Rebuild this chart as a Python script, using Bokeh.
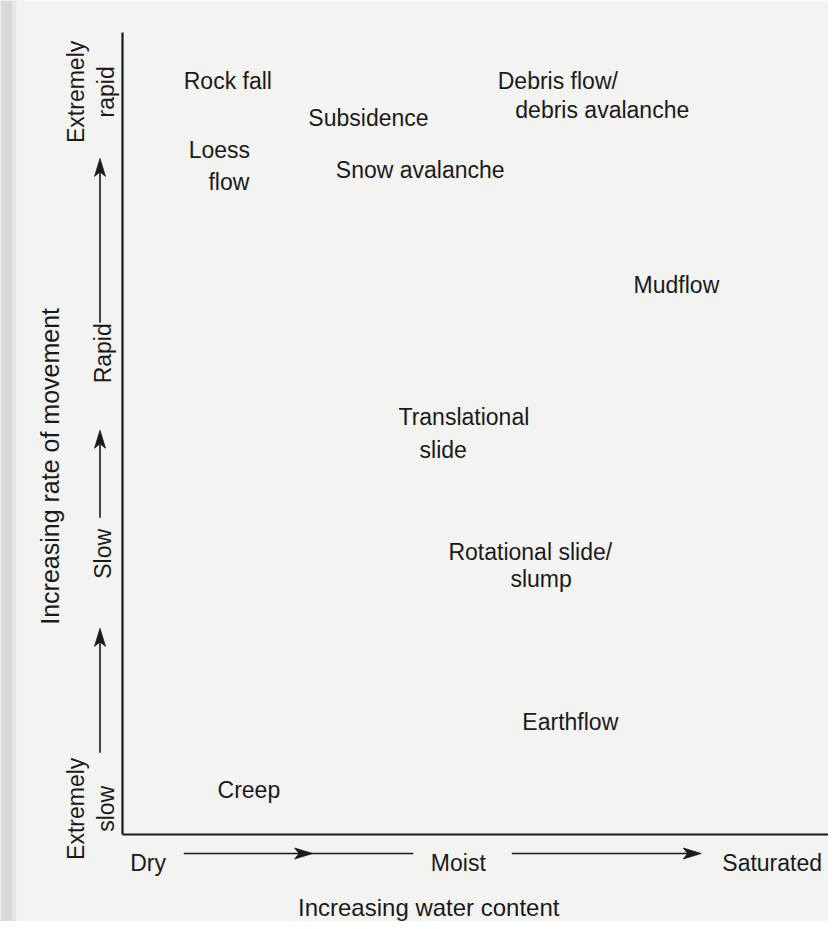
import math
from bokeh.plotting import figure
from bokeh.models import ColumnDataSource, Range1d
from bokeh.core.properties import value
from bokeh.embed import file_html
from bokeh.resources import INLINE

# ---------------- data ----------------
# Mass-movement types, placed by water content (0 = dry, 100 = saturated)
# and rate of movement (0 = extremely slow, 100 = extremely rapid).
# Each printed line of a label is one entry (left edge, baseline).
label_lines = ["Rock fall", "Loess", "flow", "Subsidence", "Snow avalanche",
               "Debris flow/", "debris avalanche", "Mudflow",
               "Translational", "slide", "Rotational slide/", "slump",
               "Earthflow", "Creep"]
label_water = [8.7, 9.4, 12.2, 26.4, 30.3,
               53.3, 55.8, 72.6,
               39.2, 42.2, 46.3, 55.1,
               56.8, 13.5]
label_rate = [94.0, 85.3, 81.4, 89.3, 82.8,
              94.0, 90.3, 68.5,
              52.0, 48.0, 35.2, 31.9,
              14.0, 5.5]

# water-content scale labels (left edge)
water_ticks = ["Dry", "Moist", "Saturated"]
water_tick_pos = [1.1, 43.8, 85.2]

# rate-of-movement scale labels (rotated, centred), one entry per line
rate_ticks = ["Extremely", "slow", "Slow", "Rapid", "Extremely", "rapid"]
rate_tick_pos = [3.2, 3.2, 35.0, 60.0, 92.6, 92.6]
rate_tick_row = [0, 1, 2, 2, 0, 1]   # 0 = outer line, 1 = inner line, 2 = single line

# arrows along the scales
rate_arrows = [(10.2, 25.7), (39.5, 50.4), (63.8, 84.3)]          # start, tip
water_arrows = [(8.7, 41.3, 27.0), (55.3, 82.2, 82.2)]            # start, end, head tip

x_title = "Increasing water content"
y_title = "Increasing rate of movement"

# ---------------- layout ----------------
W, H = 828, 921
AX_L, AX_R, AX_B, AX_T = 122, 826, 834, 32      # canvas px of the plot axes
sx = (AX_R - AX_L) / 100.0
sy = (AX_B - AX_T) / 100.0

BG = "#f3f3f1"
INK = "#1a1a1a"
FONT = value("Liberation Sans")
FS = "23px"

p = figure(width=W, height=H,
           x_range=Range1d(-AX_L / sx, (W - AX_L) / sx),
           y_range=Range1d(-(H - AX_B) / sy, AX_B / sy),
           output_backend="svg", toolbar_location=None,
           x_axis_location=None, y_axis_location=None,
           min_border=0, background_fill_color=BG, border_fill_color=BG,
           outline_line_color=None)
p.xgrid.visible = False
p.ygrid.visible = False


def dx(px):
    return px / sx


def dy(px):
    return px / sy


# scan shadow along the left edge of the page
p.quad(left=[-AX_L / sx], right=[-dx(AX_L - 12)],
       bottom=[-(H - AX_B) / sy], top=[AX_B / sy],
       fill_color="#d9d9d7", line_color=None)
p.quad(left=[-dx(AX_L - 12)], right=[-dx(AX_L - 16)],
       bottom=[-(H - AX_B) / sy], top=[AX_B / sy],
       fill_color="#e7e7e5", line_color=None)

# axis lines
p.segment(x0=[0, 0], y0=[0, 0], x1=[0, (W - AX_L) / sx], y1=[100, 0],
          line_color=INK, line_width=2.2)

# mass movement labels
src = ColumnDataSource(dict(x=label_water, y=label_rate, t=label_lines))
p.text(x="x", y="y", text="t", source=src, text_font=FONT, text_font_size=FS,
       text_color=INK, text_align="left", text_baseline="alphabetic")

# water content scale labels
yb = -dy(862 - AX_B)
p.text(x=water_tick_pos, y=[yb] * 3, text=water_ticks, text_font=FONT,
       text_font_size=FS, text_color=INK, text_align="left",
       text_baseline="alphabetic")

# rate scale labels (rotated)
row_x = {0: -dx(AX_L - 75), 1: -dx(AX_L - 105), 2: -dx(AX_L - 102)}
rx = [row_x[r] for r in rate_tick_row]
p.text(x=rx, y=rate_tick_pos, text=rate_ticks, angle=math.pi / 2,
       text_font=FONT, text_font_size=FS, text_color=INK,
       text_align="center", text_baseline="alphabetic")

# axis titles
p.text(x=[43.5], y=[-dy(907 - AX_B)], text=[x_title], text_font=FONT,
       text_font_size="24px", text_color=INK, text_align="center",
       text_baseline="alphabetic")
p.text(x=[-dx(AX_L - 49)], y=[45.9], text=[y_title], angle=math.pi / 2,
       text_font=FONT, text_font_size="25px", text_color=INK,
       text_align="center", text_baseline="alphabetic")

# arrowhead geometry (px)
HL, HW, HN = 18, 5.5, 4.5

# vertical arrows (pointing up)
ax_v = -dx(AX_L - 99.5)
vx0, vy0, vx1, vy1 = [], [], [], []
heads_x, heads_y = [], []
for s, t in rate_arrows:
    vx0.append(ax_v); vy0.append(s); vx1.append(ax_v); vy1.append(t - dy(HN))
    heads_x.append([ax_v, ax_v - dx(HW), ax_v, ax_v + dx(HW)])
    heads_y.append([t, t - dy(HL), t - dy(HL - HN), t - dy(HL)])

# horizontal arrows (pointing right)
ay_h = -dy(853 - AX_B)
for s, e, tip in water_arrows:
    end = e if tip < e else e - dx(HN)
    vx0.append(s); vy0.append(ay_h); vx1.append(end); vy1.append(ay_h)
    heads_x.append([tip, tip - dx(HL), tip - dx(HL - HN), tip - dx(HL)])
    heads_y.append([ay_h, ay_h + dy(HW), ay_h, ay_h - dy(HW)])

p.segment(x0=vx0, y0=vy0, x1=vx1, y1=vy1, line_color=INK, line_width=1.6)
p.patches(xs=heads_x, ys=heads_y, fill_color=INK, line_color=INK, line_width=0.8)

open("out.html", "w").write(file_html(p, INLINE))
